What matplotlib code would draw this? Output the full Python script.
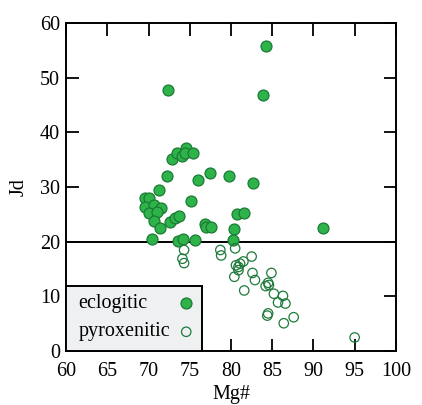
import matplotlib
matplotlib.use("Agg")
import matplotlib.pyplot as plt
from matplotlib.patches import Rectangle

plt.rcParams["font.family"] = ["Liberation Serif", "DejaVu Serif"]

# eclogitic samples (filled)
ecl_mg = [72.4, 84.2, 83.9,
          72.8, 73.5, 74.05, 74.5, 74.4, 75.4,
          72.2, 76.0, 77.5, 79.8, 82.7, 71.3, 75.1,
          69.6, 70.1, 69.5, 70.7, 71.5, 70.1, 71.0, 70.7, 71.4,
          72.6, 73.2, 73.7, 76.8, 77.0, 77.6, 80.7, 81.6, 80.3, 91.2,
          70.4, 73.6, 74.2, 75.6, 80.2]
ecl_jd = [47.8, 55.8, 46.9,
          35.2, 36.3, 35.6, 37.2, 36.3, 36.3,
          32.0, 31.3, 32.6, 32.1, 30.7, 29.4, 27.5,
          28.0, 28.0, 26.4, 26.8, 26.1, 25.2, 25.4, 23.8, 22.5,
          23.6, 24.3, 24.7, 23.3, 22.7, 22.7, 25.0, 25.2, 22.4, 22.5,
          20.6, 20.2, 20.6, 20.3, 20.3]

# pyroxenitic samples (open)
pyx_mg = [74.3, 74.1, 74.3, 78.7, 78.8, 80.5, 80.6, 80.9, 81.1, 80.9,
          81.5, 82.5, 80.4, 82.6, 82.9, 81.6, 84.9, 84.5, 84.2, 84.6,
          85.2, 86.3, 85.7, 86.6, 84.5, 84.4, 87.6, 86.4, 95.0]
pyx_jd = [18.5, 16.9, 16.1, 18.5, 17.5, 18.8, 15.7, 15.4, 16.0, 14.8,
          16.4, 17.3, 13.6, 14.3, 13.0, 11.1, 14.3, 12.5, 11.9, 12.1,
          10.5, 10.1, 8.9, 8.7, 6.9, 6.5, 6.2, 5.1, 2.5]

x_ticks = [60, 65, 70, 75, 80, 85, 90, 95, 100]
y_ticks = [0, 10, 20, 30, 40, 50, 60]

ecl_style = dict(s=62, facecolor="#2eb34a", edgecolor="#1b7a33", linewidth=0.9)
pyx_style = dict(s=46, facecolor="none", edgecolor="#1e7a3a", linewidth=0.9)
fs = 14.5

fig = plt.figure(figsize=(4.22, 4.05), dpi=100)
ax = fig.add_axes([0.157, 0.133, 0.781, 0.810])

ax.axhline(20, color="black", lw=1.4, zorder=1)

ax.scatter(ecl_mg, ecl_jd, zorder=3, **ecl_style)
ax.scatter(pyx_mg, pyx_jd, zorder=3, **pyx_style)

ax.set_xlim(60, 100)
ax.set_ylim(0, 60)
ax.set_xticks(x_ticks)
ax.set_yticks(y_ticks)
ax.tick_params(direction="in", length=9, width=1.3, labelsize=fs,
               top=True, right=True)
ax.tick_params(axis="x", pad=8)
ax.tick_params(axis="y", pad=4.5)
for sp in ax.spines.values():
    sp.set_linewidth(1.4)

ax.set_xlabel("Mg#", fontsize=fs, labelpad=2.5)
ax.set_ylabel("Jd", fontsize=fs, labelpad=8)

# legend box drawn by hand so labels sit left with markers on the right
ax.add_patch(Rectangle((0, 0), 0.412, 0.198, transform=ax.transAxes,
                       facecolor="#eef0f2", edgecolor="black", lw=1.4,
                       zorder=5, clip_on=False))
ax.text(0.037, 0.146, "eclogitic", transform=ax.transAxes, fontsize=fs,
        va="center", ha="left", zorder=6)
ax.text(0.037, 0.059, "pyroxenitic", transform=ax.transAxes, fontsize=fs,
        va="center", ha="left", zorder=6)
ax.scatter([0.364], [0.146], transform=ax.transAxes, zorder=6,
           clip_on=False, **ecl_style)
ax.scatter([0.364], [0.059], transform=ax.transAxes, zorder=6,
           clip_on=False, **pyx_style)

fig.savefig("out.png", dpi=100)
